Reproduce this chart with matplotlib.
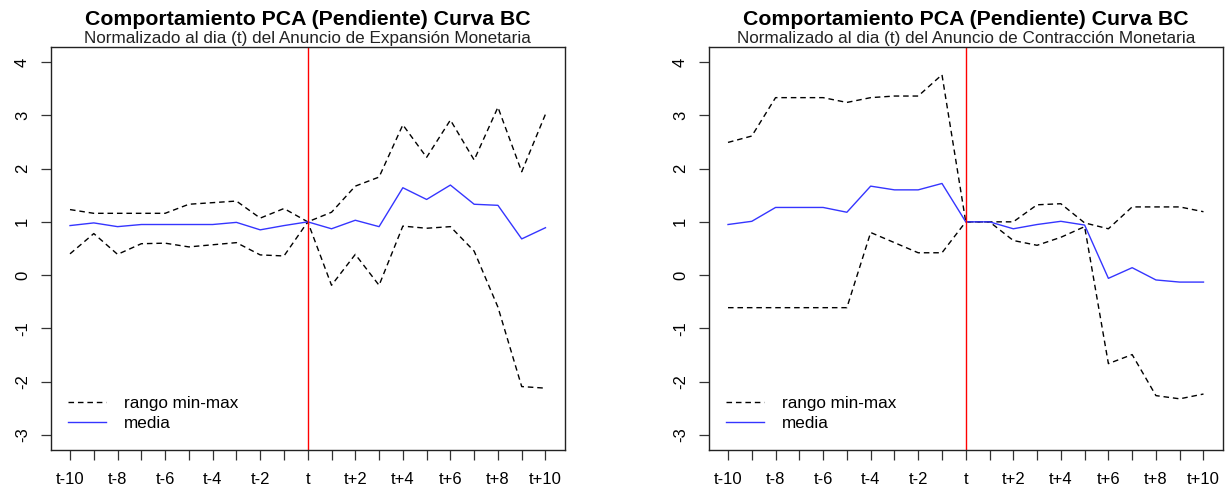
import numpy as np
import matplotlib
matplotlib.use("Agg")
import matplotlib.pyplot as plt

plt.rcParams['font.family'] = ['Liberation Sans', 'DejaVu Sans']
plt.rcParams['axes.unicode_minus'] = False

# dias relativos al anuncio
dias = list(range(-10, 11))
etiquetas = ["t" if d == 0 else (f"t{d:+d}" if d % 2 == 0 else "") for d in dias]

# expansion monetaria
exp_max = [1.23, 1.16, 1.16, 1.16, 1.16, 1.33, 1.36, 1.39, 1.07, 1.25, 1.00,
           1.18, 1.67, 1.84, 2.82, 2.21, 2.91, 2.16, 3.15, 1.94, 3.02]
exp_min = [0.40, 0.78, 0.39, 0.59, 0.60, 0.53, 0.57, 0.61, 0.38, 0.36, 1.00,
           -0.19, 0.39, -0.19, 0.92, 0.88, 0.91, 0.45, -0.60, -2.09, -2.12]
exp_media = [0.93, 0.98, 0.91, 0.95, 0.95, 0.95, 0.95, 0.99, 0.85, 0.93, 1.00,
             0.87, 1.03, 0.91, 1.64, 1.42, 1.69, 1.33, 1.31, 0.68, 0.89]

# contraccion monetaria
con_max = [2.49, 2.61, 3.33, 3.33, 3.33, 3.24, 3.33, 3.36, 3.36, 3.76, 1.00,
           1.00, 1.00, 1.32, 1.34, 0.98, 0.87, 1.28, 1.28, 1.28, 1.19]
con_min = [-0.61, -0.61, -0.61, -0.61, -0.61, -0.61, 0.80, 0.61, 0.42, 0.42, 1.00,
           1.00, 0.65, 0.56, 0.71, 0.91, -1.66, -1.49, -2.26, -2.32, -2.23]
con_media = [0.95, 1.01, 1.27, 1.27, 1.27, 1.18, 1.67, 1.60, 1.60, 1.72, 1.00,
             1.00, 0.87, 0.95, 1.01, 0.94, -0.06, 0.14, -0.09, -0.13, -0.13]

titulo = "Comportamiento PCA (Pendiente) Curva BC"
subtitulos = ["Normalizado al dia (t) del Anuncio de Expansión Monetaria",
              "Normalizado al dia (t) del Anuncio de Contracción Monetaria"]

W, H = 1227, 493
fig = plt.figure(figsize=(W / 100, H / 100), dpi=100)

paneles = [(51, exp_max, exp_min, exp_media), (709, con_max, con_min, con_media)]
for i, (x0, vmax, vmin, vmed) in enumerate(paneles):
    ax = fig.add_axes([x0 / W, 1 - 450 / H, 513.5 / W, 403 / H])
    l1, = ax.plot(dias, vmax, color='black', lw=1.0, dashes=(4, 2.8))
    ax.plot(dias, vmin, color='black', lw=1.0, dashes=(4, 2.8))
    l2, = ax.plot(dias, vmed, color='#3535ff', lw=1.0)
    ax.axvline(0, color='red', lw=1.0)
    ax.set_xlim(-10.8, 10.8)
    ax.set_ylim(-3.28, 4.28)
    ax.set_xticks(dias)
    ax.set_xticklabels(etiquetas)
    ax.set_yticks(range(-3, 5))
    ax.tick_params(axis='both', direction='out', length=7.2, width=0.9,
                   color='#333333', labelsize=12)
    ax.tick_params(axis='x', pad=9)
    ax.tick_params(axis='y', pad=8)
    for lab in ax.get_yticklabels():
        lab.set_rotation(90)
        lab.set_va('center')
    for s in ax.spines.values():
        s.set_linewidth(1.0)
        s.set_color('#222222')
    ax.legend([l1, l2], ["rango min-max", "media"], loc='lower left',
              bbox_to_anchor=(17 / 513.5, 19 / 403), borderaxespad=0,
              frameon=False, fontsize=12.3, handlelength=2.25,
              handletextpad=1.0, labelspacing=0.28, borderpad=0)
    cx = (x0 + 513.5 / 2) / W
    fig.text(cx, 1 - 25 / H, titulo, ha='center', va='baseline',
             fontsize=15.3, fontweight='bold')
    fig.text(cx, 1 - 42.7 / H, subtitulos[i], ha='center', va='baseline',
             fontsize=12.3, color='#222222')

fig.savefig("out.png", dpi=100)
